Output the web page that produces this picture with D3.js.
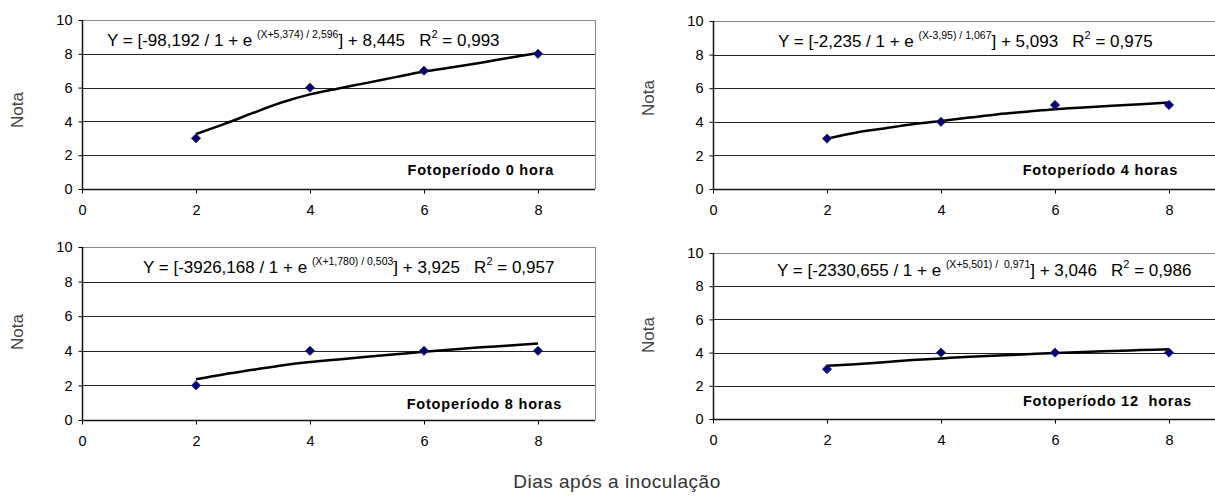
<!DOCTYPE html>
<html>
<head>
<meta charset="utf-8">
<script src="https://cdn.jsdelivr.net/npm/d3@7"></script>
<style>
  body { margin: 0; background: #fff; }
  text { font-family: Arial, "Liberation Sans", sans-serif; }
</style>
</head>
<body>
<svg id="Chart"></svg>
<script>
// ---- data ----
let days = [2, 4, 6, 8];
let nota0h = [3, 6, 7, 8];
let nota4h = [3, 4, 5, 5];
let nota8h = [2, 4, 4, 4];
let nota12h = [3, 4, 4, 4];

// fitted curve, sampled every half day
let fitDays = [2, 2.5, 3, 3.5, 4, 4.5, 5, 5.5, 6, 6.5, 7, 7.5, 8];
let fit0h = [3.25, 3.85, 4.5, 5.12, 5.6, 5.95, 6.28, 6.62, 6.95, 7.2, 7.47, 7.77, 8.05];
let fit4h = [3.0, 3.35, 3.6, 3.85, 4.05, 4.25, 4.45, 4.6, 4.75, 4.85, 4.95, 5.05, 5.15];
let fit8h = [2.35, 2.65, 2.9, 3.15, 3.35, 3.5, 3.65, 3.8, 3.95, 4.08, 4.2, 4.3, 4.42];
let fit12h = [3.2, 3.3, 3.42, 3.55, 3.65, 3.75, 3.83, 3.9, 3.97, 4.03, 4.1, 4.15, 4.2];

let xTicks = [0, 2, 4, 6, 8];
let yTicks = [0, 2, 4, 6, 8, 10];

let titles = ['Fotoperíodo 0 hora', 'Fotoperíodo 4 horas', 'Fotoperíodo 8 horas', 'Fotoperíodo 12  horas'];
// equation pieces: [before exponent, exponent, after exponent, R2 value]
let eq0h = ['Y = [-98,192 / 1 + e ', '(X+5,374) / 2,596', '] + 8,445   R', '0,993'];
let eq4h = ['Y = [-2,235 / 1 + e ', '(X-3,95) / 1,067', '] + 5,093   R', '0,975'];
let eq8h = ['Y = [-3926,168 / 1 + e ', '(X+1,780) / 0,503', '] + 3,925   R', '0,957'];
let eq12h = ['Y = [-2330,655 / 1 + e ', '(X+5,501) /  0,971', '] + 3,046   R', '0,986'];

// ---- layout ----
let width = 1215;
let height = 501;
let container = d3.select('#Chart').attr('width', width).attr('height', height);

let panels = [
  { left: 82, top: 20, right: 595, bottom: 189, pts: nota0h, fit: fit0h, eq: eq0h, title: titles[0], eqX: 107, eqY: 46, titleX: 554, titleY: 175, labelY: 110 },
  { left: 713, top: 21, right: 1226, bottom: 189, pts: nota4h, fit: fit4h, eq: eq4h, title: titles[1], eqX: 778, eqY: 47, titleX: 1178, titleY: 175, labelY: 98 },
  { left: 82, top: 247, right: 595, bottom: 420, pts: nota8h, fit: fit8h, eq: eq8h, title: titles[2], eqX: 143, eqY: 273, titleX: 562, titleY: 409, labelY: 332 },
  { left: 713, top: 253, right: 1226, bottom: 419, pts: nota12h, fit: fit12h, eq: eq12h, title: titles[3], eqX: 777, eqY: 276, titleX: 1192, titleY: 406, labelY: 335 }
];

function drawPanel(p) {
  let xScale = d3.scaleLinear().domain([0, 9]).range([p.left, p.right]);
  let yScale = d3.scaleLinear().domain([0, 10]).range([p.bottom, p.top]);
  let g = container.append('g');

  // horizontal grid
  g.selectAll('.grid').data(yTicks.filter(d => d > 0)).enter()
    .append('line')
    .attr('x1', p.left).attr('x2', p.right)
    .attr('y1', d => Math.round(yScale(d)) + 0.5).attr('y2', d => Math.round(yScale(d)) + 0.5)
    .attr('stroke', d => d === 10 ? '#888' : '#222')
    .attr('stroke-width', 1);

  // right border
  g.append('line')
    .attr('x1', Math.round(p.right) + 0.5).attr('x2', Math.round(p.right) + 0.5)
    .attr('y1', yScale(10)).attr('y2', yScale(0))
    .attr('stroke', '#888');

  // axes
  let axisX = d3.axisBottom(xScale).tickValues(xTicks).tickSize(4).tickPadding(11);
  let gx = g.append('g')
    .attr('transform', `translate(0,${Math.round(yScale(0)) + 0.5})`)
    .call(axisX);
  gx.select('.domain').attr('d', `M${p.left},0H${p.right}`).attr('stroke', '#111').attr('stroke-width', 1.5);
  gx.selectAll('text').attr('font-size', 14.5).attr('fill', '#000')
    .attr('font-family', 'Arial, "Liberation Sans", sans-serif');

  let axisY = d3.axisLeft(yScale).tickValues(yTicks).tickSize(4).tickPadding(6);
  let gy = g.append('g')
    .attr('transform', `translate(${Math.round(p.left) + 0.5},0)`)
    .call(axisY);
  gy.select('.domain').attr('d', `M0,${p.top}V${p.bottom}`).attr('stroke', '#111').attr('stroke-width', 1.5);
  gy.selectAll('text').attr('font-size', 14.5).attr('fill', '#000')
    .attr('font-family', 'Arial, "Liberation Sans", sans-serif');

  // y label
  g.append('text')
    .attr('transform', `translate(${p.left - 63},${p.labelY}) rotate(-90)`)
    .attr('text-anchor', 'middle')
    .attr('dominant-baseline', 'middle')
    .attr('font-size', 17)
    .attr('fill', '#444')
    .text('Nota');

  // fitted curve
  let line = d3.line()
    .x((d, i) => xScale(fitDays[i]))
    .y(d => yScale(d))
    .curve(d3.curveMonotoneX);
  g.append('path')
    .attr('d', line(p.fit))
    .attr('fill', 'none')
    .attr('stroke', '#000')
    .attr('stroke-width', 2.5);

  // points
  let diamond = d3.symbol().type(d3.symbolDiamond2).size(55);
  g.selectAll('.pt').data(p.pts).enter()
    .append('path')
    .attr('d', diamond)
    .attr('transform', (d, i) => `translate(${xScale(days[i])},${yScale(d)})`)
    .attr('fill', '#000080')
    .attr('stroke', '#333')
    .attr('stroke-width', 0.8);

  // equation
  let eq = g.append('text')
    .attr('x', p.eqX).attr('y', p.eqY)
    .attr('font-size', 17)
    .attr('fill', '#000')
    .style('white-space', 'pre');
  eq.append('tspan').text(p.eq[0]);
  eq.append('tspan').attr('font-size', 10.5).attr('dy', -8).text(p.eq[1]);
  eq.append('tspan').attr('dy', 8).text(p.eq[2]);
  eq.append('tspan').attr('font-size', 11).attr('dy', -8).text('2');
  eq.append('tspan').attr('dy', 8).text(' = ' + p.eq[3]);

  // panel title
  g.append('text')
    .attr('x', p.titleX)
    .attr('y', p.titleY)
    .attr('text-anchor', 'end')
    .attr('font-size', 14.5)
    .attr('font-weight', 'bold')
    .attr('letter-spacing', 0.8)
    .attr('fill', '#000')
    .style('white-space', 'pre')
    .text(p.title);
}

panels.forEach(drawPanel);

container.append('text')
  .attr('x', 617).attr('y', 488)
  .attr('text-anchor', 'middle')
  .attr('font-size', 19)
  .attr('letter-spacing', 0.5)
  .attr('fill', '#333')
  .text('Dias após a inoculação');
</script>
</body>
</html>
